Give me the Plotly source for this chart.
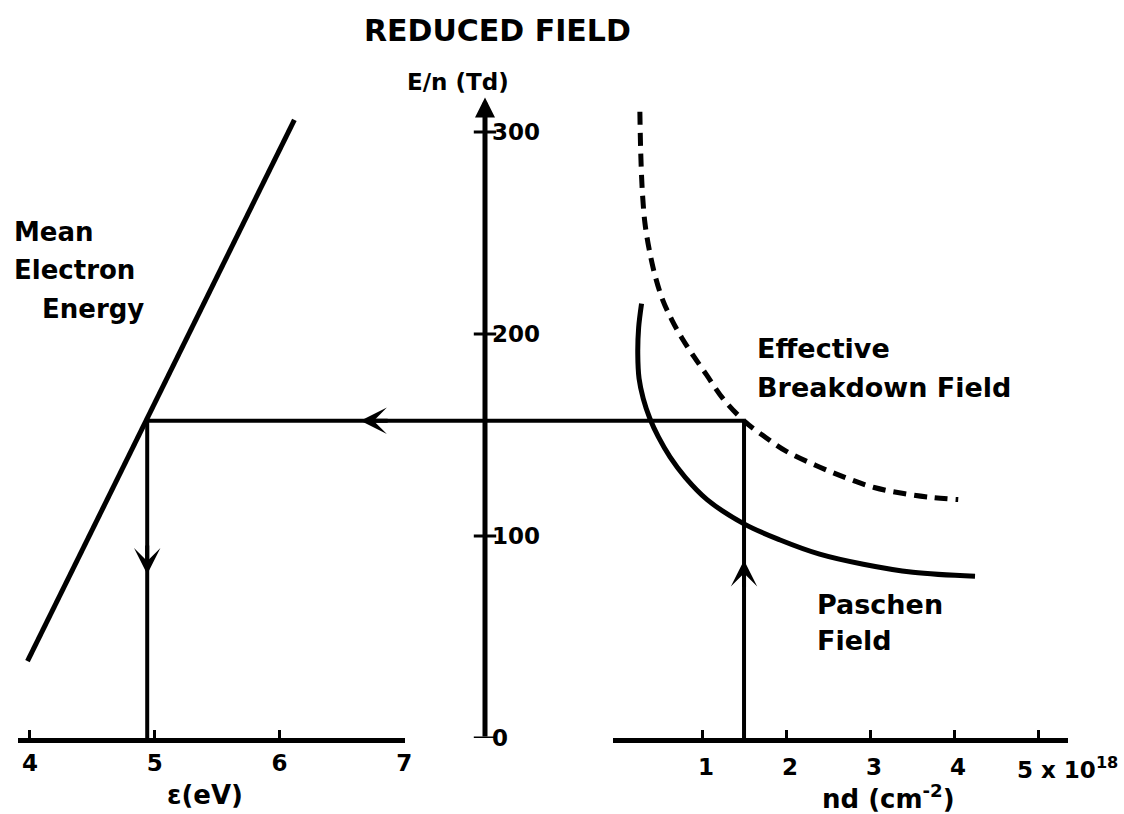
import plotly.graph_objects as go

# ---- data -------------------------------------------------------------
# mean electron energy vs reduced field (straight line)
energy_ev = [3.98, 6.12]
energy_en = [38, 306]

# effective breakdown field vs nd (1e18 cm^-2)
eff_nd = [0.26, 0.27, 0.29, 0.32, 0.37, 0.44, 0.53, 0.64, 0.76, 0.90, 1.05,
          1.25, 1.50, 1.75, 2.00, 2.35, 2.70, 3.05, 3.40, 3.75, 4.05]
eff_en = [310, 290, 270, 255, 242, 229, 217, 207, 198, 189, 180,
          168, 157, 149, 142, 135, 129, 124, 121, 119, 118]

# Paschen field vs nd
pas_nd = [0.28, 0.245, 0.235, 0.25, 0.30, 0.38, 0.48, 0.62, 0.80, 1.06,
          1.50, 1.93, 2.40, 2.92, 3.51, 4.25]
pas_en = [215, 203, 190, 178, 168, 158, 149, 139, 129, 118,
          106, 98, 91, 86, 82, 80]

# operating point
op_nd = 1.5
op_en = 157
op_ev = 4.94

ev_ticks = [4, 5, 6, 7]
nd_ticks = [1, 2, 3, 4, 5]
# the last tick carries the exponent, written out beside it below
nd_ticktext = ["1", "2", "3", "4", ""]
nd_last_label = "5 x 10<sup>18</sup>"
en_ticks = [0, 100, 200, 300]
en_top = 317

# ---- layout geometry --------------------------------------------------
W, H = 1124, 814
FONT = "DejaVu Sans"
Y_DOMAIN = [0.0934, 1.0]
Y_RANGE = [0, 365.3]
XL_DOMAIN = [18 / W, 405 / W]
XL_RANGE = [3.904, 7.007]
XR_DOMAIN = [613 / W, 1068 / W]
XR_RANGE = [-0.06, 5.357]
AXIS_X = 485 / W


def to_paper(v, dom, rng):
    return dom[0] + (v - rng[0]) / (rng[1] - rng[0]) * (dom[1] - dom[0])


fig = go.Figure()

# mean electron energy
fig.add_trace(go.Scatter(x=energy_ev, y=energy_en, mode="lines",
                         line=dict(color="black", width=5),
                         xaxis="x", yaxis="y", hoverinfo="skip"))
# drop line to the energy axis
fig.add_trace(go.Scatter(x=[op_ev, op_ev], y=[0, op_en], mode="lines",
                         line=dict(color="black", width=4),
                         xaxis="x", yaxis="y", hoverinfo="skip"))

# effective breakdown field (dashed)
fig.add_trace(go.Scatter(x=eff_nd, y=eff_en, mode="lines",
                         line=dict(color="black", width=5, dash="13px,8px",
                                   shape="spline", smoothing=1.0),
                         xaxis="x3", yaxis="y", hoverinfo="skip"))
# Paschen field
fig.add_trace(go.Scatter(x=pas_nd, y=pas_en, mode="lines",
                         line=dict(color="black", width=5,
                                   shape="spline", smoothing=1.0),
                         xaxis="x3", yaxis="y", hoverinfo="skip"))
# rise from the nd axis to the breakdown curve
fig.add_trace(go.Scatter(x=[op_nd, op_nd], y=[0, op_en], mode="lines",
                         line=dict(color="black", width=4),
                         xaxis="x3", yaxis="y", hoverinfo="skip"))

# cross ticks on the central E/n axis
fig.add_trace(go.Scatter(x=[0] * len(en_ticks), y=en_ticks, mode="markers",
                         marker=dict(symbol="line-ew", size=16,
                                     line=dict(color="black", width=3)),
                         xaxis="x2", yaxis="y", hoverinfo="skip"))

# horizontal transfer line between the two panels
fig.add_shape(type="line", xref="paper", yref="y",
              x0=to_paper(op_ev, XL_DOMAIN, XL_RANGE),
              x1=to_paper(op_nd, XR_DOMAIN, XR_RANGE),
              y0=op_en, y1=op_en, line=dict(color="black", width=4))

annotations = []


def arrow(x, y, ax, ay, xref, width=4, head=3, size=1.1):
    annotations.append(dict(x=x, y=y, ax=ax, ay=ay, xref=xref, yref="y",
                            axref=xref, ayref="y", text="", showarrow=True,
                            arrowhead=head, arrowsize=size,
                            arrowwidth=width, arrowcolor="black",
                            standoff=0, startstandoff=0))


# central E/n axis with arrow
arrow(0, en_top, 0, 0, "x2", width=5, head=2, size=0.8)
# direction arrows
arrow(op_ev, 81, op_ev, 96, "x")
arrow(op_nd, 88, op_nd, 74, "x3")
arrow(6.65, op_en, 6.88, op_en, "x")


def label(text, x, y, size, xanchor="left"):
    annotations.append(dict(text=text, x=x / W, y=1 - y / H, xref="paper",
                            yref="paper", showarrow=False, xanchor=xanchor,
                            yanchor="middle",
                            font=dict(family=FONT, size=size, color="black")))


label("<b>REDUCED FIELD</b>", 497, 31, 30, "center")
label("<b>E/n (Td)</b>", 458, 82, 23, "center")
label("<b>Mean</b>", 12, 232, 26)
label("<b>Electron</b>", 12, 270, 26)
label("<b>Energy</b>", 40, 309, 26)
label("<b>Effective</b>", 755, 348, 27)
label("<b>Breakdown Field</b>", 755, 387, 27)
label("<b>Paschen</b>", 815, 604, 27)
label("<b>Field</b>", 815, 640, 27)
label("<b>ε(eV)</b>", 205, 795, 26, "center")
label("<b>nd (cm<sup>-2</sup>)</b>", 888, 797, 26, "center")
label("<b>" + nd_last_label + "</b>", 1015, 768, 23)

tickfont = dict(family=FONT, size=23, color="black", weight="bold")

fig.update_layout(
    width=W, height=H,
    margin=dict(l=0, r=0, t=0, b=0),
    paper_bgcolor="white", plot_bgcolor="rgba(0,0,0,0)",
    showlegend=False,
    annotations=annotations,
    xaxis=dict(domain=XL_DOMAIN, range=XL_RANGE, anchor="y",
               showline=True, linecolor="black", linewidth=5,
               ticks="inside", ticklen=8, tickwidth=3, tickcolor="black",
               tickvals=ev_ticks, tickfont=tickfont, automargin=False,
               showgrid=False, zeroline=False, fixedrange=True),
    xaxis2=dict(domain=[AXIS_X - 0.02, AXIS_X + 0.02], range=[-1, 1],
                anchor="y", visible=False, fixedrange=True),
    xaxis3=dict(domain=XR_DOMAIN, range=XR_RANGE, anchor="y",
                showline=True, linecolor="black", linewidth=5,
                ticks="inside", ticklen=8, tickwidth=3, tickcolor="black",
                tickvals=nd_ticks, ticktext=nd_ticktext, tickfont=tickfont,
                ticklabelshift=4, ticklabelstandoff=4, automargin=False,
                showgrid=False, zeroline=False, fixedrange=True),
    yaxis=dict(domain=Y_DOMAIN, range=Y_RANGE, anchor="free",
               position=AXIS_X, side="right", showline=False,
               ticks="", tickvals=en_ticks, tickfont=tickfont,
               ticklabelstandoff=6, automargin=False,
               showgrid=False, zeroline=False, fixedrange=True),
)

fig.write_html("out.html")
